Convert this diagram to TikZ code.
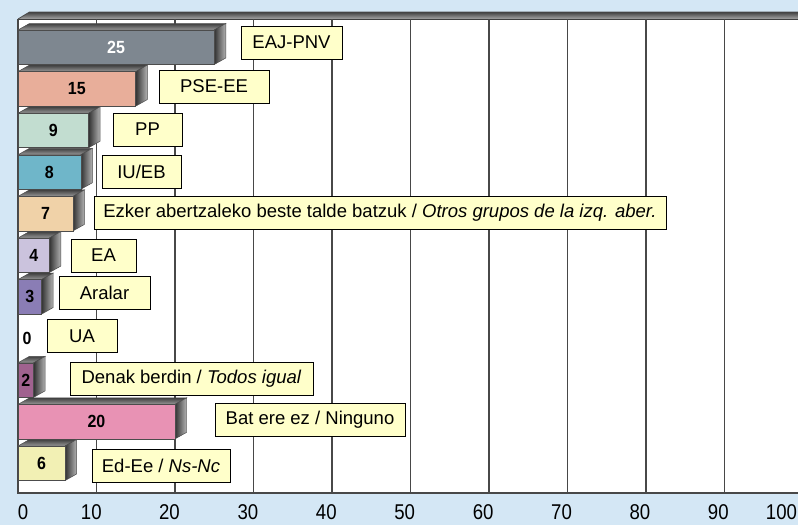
\documentclass[tikz,border=0pt]{standalone}
\usepackage{fontspec}
\usepackage{graphicx}
\setmainfont{Liberation Sans}
\definecolor{bg}{HTML}{D4E7F5}
\definecolor{lblfill}{HTML}{FFFFCA}
\definecolor{gridc}{HTML}{484848}
\definecolor{cA}{HTML}{7E8790}
\definecolor{cB}{HTML}{E8AE9A}
\definecolor{cC}{HTML}{C2DDD0}
\definecolor{cD}{HTML}{6FB6C9}
\definecolor{cE}{HTML}{F0D2A8}
\definecolor{cF}{HTML}{CBC3DD}
\definecolor{cG}{HTML}{8A7DB5}
\definecolor{cH}{HTML}{A0628F}
\definecolor{cI}{HTML}{E892B4}
\definecolor{cJ}{HTML}{F2F0B4}
\tikzset{
  lbl/.style={draw=black, line width=0.8pt, fill=lblfill, anchor=west,
    minimum height=33pt, inner sep=0pt, outer sep=0pt,
    font=\fontsize{18.5}{20}\selectfont},
  barface/.style={draw=black!70, line width=0.6pt, anchor=north west,
    minimum height=34.5pt, inner sep=0pt, outer sep=0pt,
    font=\fontsize{16}{18}\selectfont\bfseries},
  gridln/.style={draw=gridc, line width=1.1pt},
  axl/.style={anchor=base, inner sep=0pt, font=\fontsize{18.6}{20}\selectfont},
  topface/.style={top color=black!75, bottom color=black!40, draw=black!70, line width=0.5pt},
  sideface/.style={left color=black!80, right color=black!30, draw=black!70, line width=0.5pt},
}
\newcommand\drawbar[5]{%
  \pgfmathsetmacro\byt{30+#1*41.6}%
  \pgfmathsetmacro\byb{\byt+34.5}%
  \pgfmathsetmacro\bxr{18+#2*7.85}%
  \pgfmathsetmacro\bwid{#2*7.85}%
  \path[topface] (18,\byt) -- (29.5,\byt-6.5) -- (\bxr+11.5,\byt-6.5) -- (\bxr,\byt) -- cycle;
  \path[sideface] (\bxr,\byt) -- (\bxr+11.5,\byt-6.5) -- (\bxr+11.5,\byb-6.5) -- (\bxr,\byb) -- cycle;
  \node[barface, fill=#3, text=#5, minimum width=\bwid pt] (#4) at (18,\byt) {\scalebox{1}[1.1]{#2}};
}
\begin{document}
\begin{tikzpicture}[x=1pt,y=-1pt]
\useasboundingbox (0,0) rectangle (798,525);
\fill[bg] (0,0) rectangle (798,525);
% plot area
\fill[white] (18,19) rectangle (798,493);
% top band
\path[top color=black!75, bottom color=black!35] (18,19) -- (29.5,12) -- (798,12) -- (798,19) -- cycle;
\draw[black!70, line width=0.8pt] (18,19) -- (29.5,12) -- (798,12);
\draw[black!75, line width=1pt] (18,19) -- (798,19);
% gridlines
\foreach \k in {1,...,9} {
  \draw[gridln] ({18+\k*78.5},19) -- ({18+\k*78.5},493);
}
\draw[gridln] (18,19) -- (18,493) -- (798,493);
% bars
\drawbar{0}{25}{cA}{b1}{white}
\drawbar{1}{15}{cB}{b2}{black}
\drawbar{2}{9}{cC}{b3}{black}
\drawbar{3}{8}{cD}{b4}{black}
\drawbar{4}{7}{cE}{b5}{black}
\drawbar{5}{4}{cF}{b6}{black}
\drawbar{6}{3}{cG}{b7}{black}
\node[font=\fontsize{16}{18}\selectfont\bfseries, inner sep=0pt] (b8) at (27,338) {\scalebox{1}[1.1]{0}};
\drawbar{8}{2}{cH}{b9}{black}
\drawbar{9}{20}{cI}{b10}{black}
\drawbar{10}{6}{cJ}{b11}{black}
% labels
\node[lbl, minimum width=101pt] (l1) at (241,42.5) {EAJ-PNV};
\node[lbl, minimum width=110pt] (l2) at (159,86.5) {PSE-EE};
\node[lbl, minimum width=69pt] (l3) at (113,129.5) {PP};
\node[lbl, minimum width=79pt] (l4) at (102,171.5) {IU/EB};
\node[lbl, minimum width=572pt] (l5) at (94,213) {Ezker abertzaleko beste talde batzuk / \textit{Otros grupos de la izq. aber.}};
\node[lbl, minimum width=65pt] (l6) at (71,255.5) {EA};
\node[lbl, minimum width=91pt] (l7) at (59,293) {Aralar};
\node[lbl, minimum width=70pt] (l8) at (47,336) {UA};
\node[lbl, minimum width=243pt] (l9) at (70,378.5) {Denak berdin / \textit{Todos igual}};
\node[lbl, minimum width=190pt] (l10) at (215,419.5) {Bat ere ez / Ninguno};
\node[lbl, minimum width=138pt] (l11) at (92,465.5) {Ed-Ee / \textit{Ns-Nc}};
% axis labels
\foreach \v/\xc in {0/23,10/91.3,20/169.5,30/247.9,40/326.3,50/404.7,60/483.1,70/561.5,80/639.9,90/718.3,100/781.5} {
  \node[axl] (t\v) at (\xc,519) {\scalebox{1}[1.15]{\v}};
}
\end{tikzpicture}
\end{document}
